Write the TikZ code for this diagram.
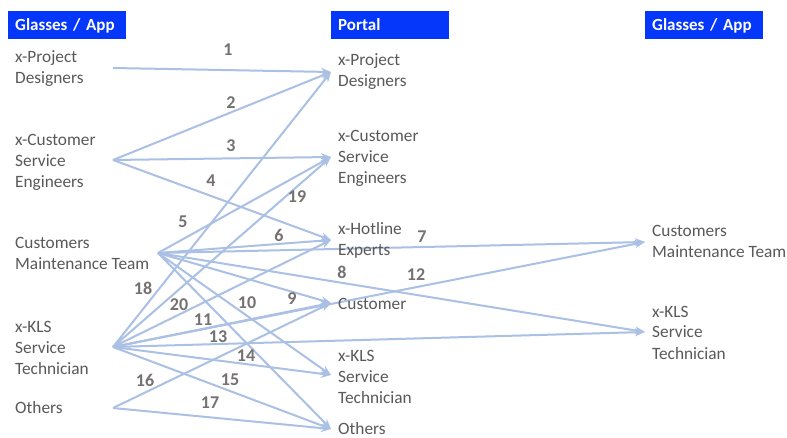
\documentclass[tikz,border=0pt]{standalone}
\usepackage{fontspec}
\setmainfont{Carlito}
\usetikzlibrary{arrows.meta}
\definecolor{txtgray}{RGB}{89,89,89}
\definecolor{numgray}{RGB}{118,113,113}
\definecolor{edgeblue}{RGB}{170,192,228}
\definecolor{hdrblue}{RGB}{5,55,250}
\begin{document}
\begin{tikzpicture}[x=1pt,y=-1pt,
  lbl/.style={anchor=base west, align=left, inner sep=0pt, text=txtgray, font=\fontsize{17.3}{21}\selectfont},
  num/.style={text=numgray, font=\fontsize{18}{20}\bfseries\selectfont, inner sep=0pt},
  hdr/.style={fill=hdrblue, text=white, font=\fontsize{17}{20}\bfseries\selectfont, anchor=north west, inner xsep=7pt, inner ysep=0pt, text width=104pt, text height=13pt, text depth=3pt, align=left, minimum height=28pt},
  link/.style={draw=edgeblue, line width=2pt, -{Stealth[length=10pt,width=8pt]}}]
\useasboundingbox (0,0) rectangle (787,438);
\fill[white] (0,0) rectangle (787,438);
% headers
\node[hdr] (h1) at (8,11) {Glasses / App};
\node[hdr] (h2) at (331,11) {Portal};
\node[hdr] (h3) at (645,11) {Glasses / App};
% ports
\coordinate (pdL) at (113,68);
\coordinate (cseL) at (113,160);
\coordinate (cmtL) at (158,253);
\coordinate (klsL) at (113,347);
\coordinate (othL) at (113,408);
\coordinate (pdM) at (331,72);
\coordinate (cseM) at (331,157);
\coordinate (hotM) at (331,240);
\coordinate (cusM) at (331,303);
\coordinate (klsM) at (331,375);
\coordinate (othM) at (331,429);
\coordinate (cmtR) at (645,242);
\coordinate (klsR) at (645,332);
% connectors
\draw[link] (pdL) -- (pdM);
\draw[link] (cseL) -- (pdM);
\draw[link] (cseL) -- (cseM);
\draw[link] (cseL) -- (hotM);
\draw[link] (cmtL) -- (cseM);
\draw[link] (cmtL) -- (hotM);
\draw[link] (cmtL) -- (cmtR);
\draw[link] (cmtL) -- (klsR);
\draw[link] (cmtL) -- (cusM);
\draw[link] (cmtL) -- (klsM);
\draw[link] (cmtL) -- (othM);
\draw[link] (klsL) -- (cusM);
\draw[link] (klsL) -- (cmtR);
\draw[link] (klsL) -- (klsR);
\draw[link] (klsL) -- (klsM);
\draw[link] (klsL) -- (othM);
\draw[link] (othL) -- (cusM);
\draw[link] (othL) -- (othM);
\draw[link] (klsL) -- (pdM);
\draw[link] (klsL) -- (cseM);
\draw[link] (klsL) -- (hotM);
% texts (anchor = baseline of last line)
\node[lbl] (tpdL) at (15,84) {x-Project\\Designers};
\node[lbl] (tcseL) at (15,188) {x-Customer\\Service\\Engineers};
\node[lbl] (tcmtL) at (15,270) {Customers\\Maintenance Team};
\node[lbl] (tklsL) at (15,374) {x-KLS\\Service\\Technician};
\node[lbl] (tothL) at (15,413) {Others};
\node[lbl] (tpdM) at (338,87) {x-Project\\Designers};
\node[lbl] (tcseM) at (338,184) {x-Customer\\Service\\Engineers};
\node[lbl] (thotM) at (338,256) {x-Hotline\\Experts};
\node[lbl] (tcusM) at (338,309) {Customer};
\node[lbl] (tklsM) at (338,403) {x-KLS\\Service\\Technician};
\node[lbl] (tothM) at (338,434) {Others};
\node[lbl] (tcmtR) at (652,258) {Customers\\Maintenance Team};
\node[lbl] (tklsR) at (652,359) {x-KLS\\Service\\Technician};
% numbers
\node[num] (n1) at (228,50) {1};
\node[num] (n2) at (231,103) {2};
\node[num] (n3) at (231,146) {3};
\node[num] (n4) at (211,181) {4};
\node[num] (n5) at (183,222) {5};
\node[num] (n6) at (279,235) {6};
\node[num] (n7) at (422,237) {7};
\node[num] (n8) at (342,272) {8};
\node[num] (n9) at (292,299) {9};
\node[num] (n10) at (247,303) {10};
\node[num] (n11) at (203,320) {11};
\node[num] (n12) at (416,275) {12};
\node[num] (n13) at (218,337) {13};
\node[num] (n14) at (246,356) {14};
\node[num] (n15) at (230,380) {15};
\node[num] (n16) at (145,380) {16};
\node[num] (n17) at (210,403) {17};
\node[num] (n18) at (143,288) {18};
\node[num] (n19) at (297,197) {19};
\node[num] (n20) at (179,305) {20};
\end{tikzpicture}
\end{document}
